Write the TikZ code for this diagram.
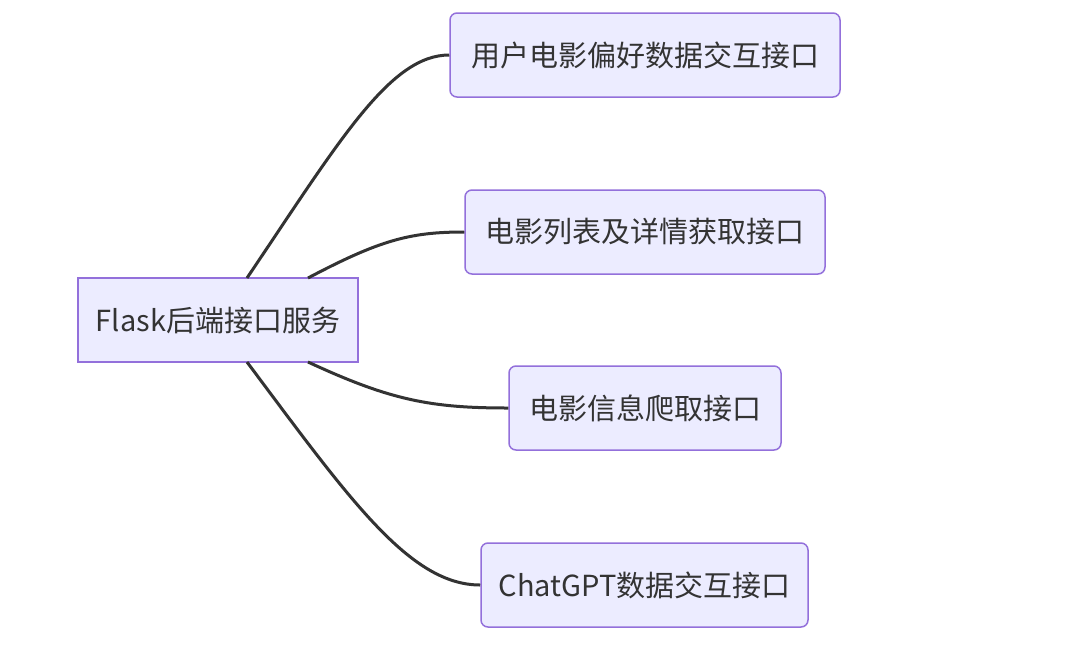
\documentclass[tikz,border=0pt]{standalone}
\usepackage{fontspec}
\setmainfont{Noto Sans CJK SC}
\definecolor{nodefill}{HTML}{ECECFF}
\definecolor{nodeborder}{HTML}{9370DB}
\definecolor{edge}{HTML}{333333}
\begin{document}
\begin{tikzpicture}[x=1pt,y=-1pt,
  rootbox/.style={draw=nodeborder,fill=nodefill,line width=1.5pt,minimum height=84pt,inner sep=0pt,font=\fontsize{29}{34}\selectfont,text=edge},
  childbox/.style={rootbox,rounded corners=7pt},
  link/.style={draw=edge,line width=3pt}]
\useasboundingbox (0,0) rectangle (1080,657);
\fill[white] (0,0) rectangle (1080,657);
\node[rootbox,minimum width=280pt] (root) at (218,320) {Flask后端接口服务};
\node[childbox,minimum width=390pt] (c1) at (645,55) {用户电影偏好数据交互接口};
\node[childbox,minimum width=360pt] (c2) at (645,232) {电影列表及详情获取接口};
\node[childbox,minimum width=272pt] (c3) at (645,408) {电影信息爬取接口};
\node[childbox,minimum width=327pt] (c4) at (644.5,585) {ChatGPT数据交互接口};
\coordinate (r1) at (247,278);
\coordinate (r2) at (308,278);
\coordinate (r3) at (308,362);
\coordinate (r4) at (247,362);
\draw[link] (r1) .. controls (340,140) and (390,55) .. (c1.west);
\draw[link] (r2) .. controls (380,240) and (410,232) .. (c2.west);
\draw[link] (r3) .. controls (390,400) and (430,408) .. (c3.west);
\draw[link] (r4) .. controls (350,500) and (410,585) .. (c4.west);
\end{tikzpicture}
\end{document}
